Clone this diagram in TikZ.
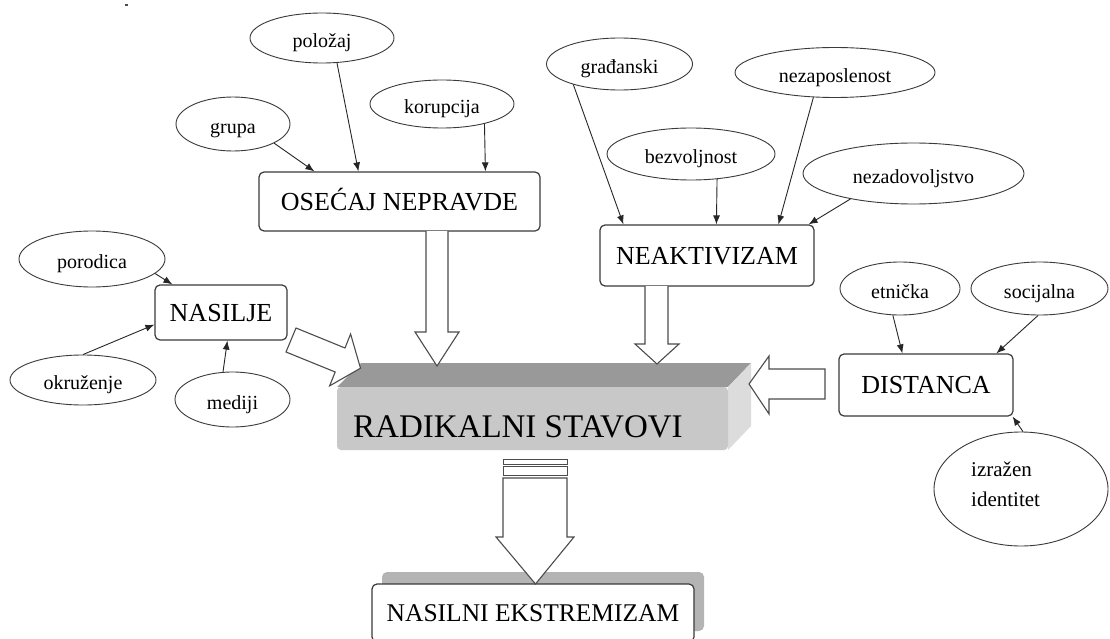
\documentclass[tikz,border=0pt]{standalone}
\usepackage{fontspec}
\setmainfont{Liberation Serif}
\usetikzlibrary{arrows.meta,calc,shapes.geometric}
\definecolor{edgegray}{HTML}{3A3A3A}
\definecolor{topface}{HTML}{999999}
\definecolor{frontface}{HTML}{C8C8C8}
\definecolor{sideface}{HTML}{DCDCDC}
\definecolor{shadowgray}{HTML}{B4B4B4}
\begin{document}
\begin{tikzpicture}[x=1pt,y=-1pt,
  ell/.style={ellipse, draw=edgegray, line width=0.9pt, inner sep=0pt,
    font=\fontsize{20}{24}\selectfont, text height=22.6pt, text depth=3pt},
  boxnode/.style={rectangle, rounded corners=5pt, draw=edgegray, line width=1.2pt,
    fill=white, inner sep=0pt, font=\fontsize{26}{30}\selectfont,
    text height=17.2pt, text depth=0pt},
  conn/.style={draw=black!85, line width=0.9pt, -{Latex[length=9pt,width=7pt]}},
  fat/.style={draw=black!70, fill=white, line width=1.1pt, line join=miter}]
\clip (0,0) rectangle (1110,639);
\fill[white] (0,0) rectangle (1110,639);
% stray mark
\fill[black!70] (125,4) rectangle (127.5,6);

% ellipses
\node[ell, minimum width=144pt, minimum height=50pt] (polozaj) at (322,38) {položaj};
\node[ell, minimum width=114pt, minimum height=54pt] (grupa) at (233,124) {grupa};
\node[ell, minimum width=144pt, minimum height=48pt] (korupcija) at (442,104) {korupcija};
\node[ell, minimum width=146pt, minimum height=56pt] (porodica) at (92,259) {porodica};
\node[ell, minimum width=146pt, minimum height=50pt] (okruzenje) at (83,380) {okruženje};
\node[ell, minimum width=115pt, minimum height=55pt] (mediji) at (232.5,399.5) {mediji};
\node[ell, minimum width=146pt, minimum height=52pt] (gradjanski) at (619.5,64) {građanski};
\node[ell, minimum width=168pt, minimum height=52pt] (bezvoljnost) at (691,154) {bezvoljnost};
\node[ell, minimum width=200pt, minimum height=50pt] (nezaposlenost) at (835,72.5) {nezaposlenost};
\node[ell, minimum width=221pt, minimum height=61pt] (nezadovoljstvo) at (913.5,173.5) {nezadovoljstvo};
\node[ell, minimum width=120pt, minimum height=53pt] (etnicka) at (900,288.5) {etnička};
\node[ell, minimum width=137pt, minimum height=53pt] (socijalna) at (1039.5,288.5) {socijalna};
\node[ell, minimum width=174pt, minimum height=114pt] (izrazen) at (1021,489) {};
\node[anchor=base west, align=left, inner sep=0pt, font=\fontsize{21}{30}\selectfont]
  (izrazentext) at (971,506) {izražen\\identitet};

% boxes
\node[boxnode, minimum width=281pt, minimum height=59pt] (osecaj) at (399.5,201.5) {OSEĆAJ NEPRAVDE};
\node[boxnode, minimum width=132pt, minimum height=55pt] (nasilje) at (221,312.5) {NASILJE};
\node[boxnode, minimum width=214pt, minimum height=61pt] (neak) at (707,255.5) {NEAKTIVIZAM};
\node[boxnode, minimum width=174pt, minimum height=62pt] (distanca) at (926,385) {DISTANCA};

% radikalni stavovi 3D block
\fill[topface] (337,387) -- (361,363) -- (751,363) -- (728,387) -- cycle;
\fill[sideface] (728,387) -- (751,363) -- (751,426) -- (728,450) -- cycle;
\node[rectangle, fill=frontface, rounded corners=4pt, inner sep=0pt,
  minimum width=391pt, minimum height=63pt] (radikalni) at (532.5,418.5) {};
\node[anchor=base west, inner sep=0pt, font=\fontsize{33}{36}\selectfont]
  (radtext) at (353,437) {RADIKALNI STAVOVI};

% nasilni ekstremizam with shadow
\fill[shadowgray, rounded corners=5pt] (382,572) rectangle (704,631);
\node[boxnode, minimum width=322pt, minimum height=58pt, font=\fontsize{25.5}{30}\selectfont,
  text height=16.9pt] (nasilni) at (533,613) {NASILNI EKSTREMIZAM};

% thin connectors
\draw[conn] (grupa.-25) -- ($(osecaj.north west)+(56,0)$);
\draw[conn] (polozaj.-59) -- ($(osecaj.north west)+(100,0)$);
\draw[conn] (korupcija.-25) -- ($(osecaj.north west)+(227,0)$);
\draw[conn] (gradjanski.-156) -- ($(neak.north west)+(24,0)$);
\draw[conn] (bezvoljnost.-44) -- ($(neak.north west)+(117,0)$);
\draw[conn] (nezaposlenost.-131) -- ($(neak.north west)+(179,0)$);
\draw[conn] (nezadovoljstvo.-158) -- ($(neak.north east)+(-6,0)$);
\draw[conn] (etnicka.-105) -- ($(distanca.north west)+(64,0)$);
\draw[conn] (socijalna.-93) -- ($(distanca.north west)+(158,0)$);
\draw[conn] (izrazen.88) -- ($(distanca.south east)+(-1,0)$);
\draw[conn] (porodica.-13) -- ($(nasilje.north west)+(18,0)$);
\draw[conn] (okruzenje.north) -- ($(nasilje.south west)+(0,-16)$);
\draw[conn] (mediji.109) -- ($(nasilje.south west)+(73,0)$);

% block arrows
\draw[fat] (426,231) -- (426,332) -- (415,332) -- (437,366) -- (459,332) -- (448,332) -- (448,231);
\draw[fat] (645,286) -- (645,344) -- (635,344) -- (657,364) -- (679,344) -- (668,344) -- (668,286);
\draw[fat] (296,328) -- (345,348) -- (350.6,334) -- (360.5,368.2) -- (329.6,385.9) -- (335.2,372) -- (286,352) -- cycle;
\draw[fat] (825,369) -- (769,369) -- (769,356) -- (749,384) -- (769,414) -- (769,399) -- (825,399) -- cycle;
\draw[fat, line width=1pt] (503,459) rectangle (567,464);
\draw[fat, line width=1pt] (503,466.5) rectangle (567,475);
\draw[fat] (503,478) -- (503,537) -- (496,537) -- (535.5,584) -- (574,537) -- (567,537) -- (567,478) -- cycle;
\end{tikzpicture}
\end{document}
